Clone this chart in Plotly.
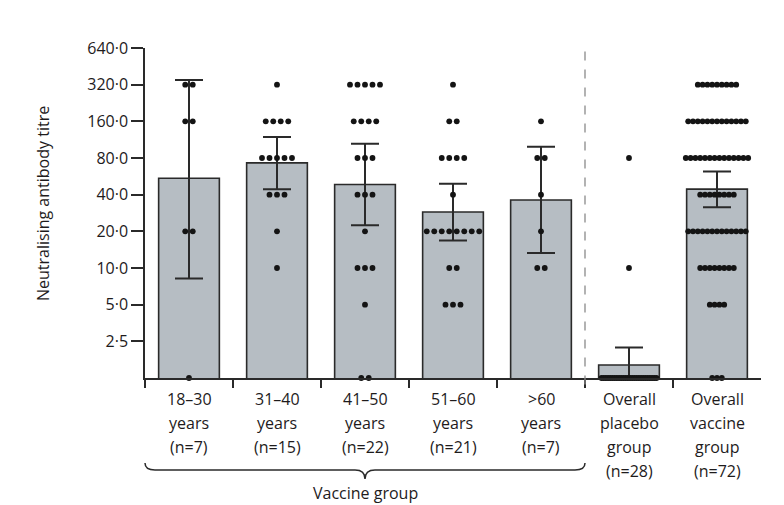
import math
import plotly.graph_objects as go

# ---------------- data ----------------
group_lines = [
    ["18–30", "years", "(n=7)"],
    ["31–40", "years", "(n=15)"],
    ["41–50", "years", "(n=22)"],
    ["51–60", "years", "(n=21)"],
    [">60", "years", "(n=7)"],
    ["Overall", "placebo", "group", "(n=28)"],
    ["Overall", "vaccine", "group", "(n=72)"],
]

# titre levels (0 = undetectable, drawn at the axis floor)
titre_levels = [0, 5, 10, 20, 40, 80, 160, 320]
counts_18_30 = [1, 0, 0, 2, 0, 0, 2, 2]
counts_31_40 = [0, 0, 1, 1, 3, 5, 4, 1]
counts_41_50 = [2, 1, 3, 1, 3, 3, 4, 5]
counts_51_60 = [0, 3, 2, 8, 1, 4, 2, 1]
counts_over_60 = [0, 0, 2, 1, 1, 2, 1, 0]
counts_placebo = [26, 0, 1, 0, 0, 1, 0, 0]
counts_vaccine = [3, 4, 8, 13, 8, 14, 13, 9]

gmt = [54.6, 73.0, 48.5, 28.8, 36.2, 1.6, 44.4]
ci_upper = [349.0, 119.0, 104.5, 49.2, 98.8, 2.22, 62.0]
ci_lower = [8.2, 44.4, 22.4, 16.8, 13.3, 1.25, 31.6]

y_tick_vals = [2.5, 5, 10, 20, 40, 80, 160, 320, 640]
y_tick_text = ["2·5", "5·0", "10·0", "20·0", "40·0", "80·0", "160·0", "320·0", "640·0"]

# ---------------- styling ----------------
FONT = "Open Sans"
TXT = "#1e1b1c"
AX = "#2a2a2a"
Y_FLOOR = 1.25
Y_TOP = 640
PX_PER_CAT = 88.0
dot_spacing_px = [7.5, 7.5, 7.5, 7.5, 7.5, 2.2, 4.8]

all_counts = [counts_18_30, counts_31_40, counts_41_50, counts_51_60,
              counts_over_60, counts_placebo, counts_vaccine]
n_groups = len(group_lines)
xs_idx = list(range(n_groups))

fig = go.Figure()

fig.add_trace(go.Bar(
    x=xs_idx, y=gmt, width=0.69,
    marker=dict(color="#b6bdc3", line=dict(color=AX, width=1.6)),
    error_y=dict(type="data", symmetric=False,
                 array=[u - m for u, m in zip(ci_upper, gmt)],
                 arrayminus=[m - l for m, l in zip(gmt, ci_lower)],
                 color=AX, thickness=2, width=14),
    showlegend=False, hoverinfo="skip",
))

dx, dy = [], []
for gi, counts in enumerate(all_counts):
    sp = dot_spacing_px[gi] / PX_PER_CAT
    for lvl, n in zip(titre_levels, counts):
        yv = lvl if lvl > 0 else Y_FLOOR
        for k in range(n):
            dx.append(gi + (k - (n - 1) / 2.0) * sp)
            dy.append(yv)

fig.add_trace(go.Scatter(
    x=dx, y=dy, mode="markers",
    marker=dict(size=5.8, color="#141414"),
    cliponaxis=False, showlegend=False, hoverinfo="skip",
))

# dashed separator between vaccine age groups and overall groups
fig.add_shape(type="line", xref="x", yref="paper", x0=4.5, x1=4.5, y0=-0.02, y1=1.01,
              line=dict(color="#8a8a8a", width=1.3, dash="dash"))

# category labels, one annotation per line for exact spacing
for gi, lines in enumerate(group_lines):
    for li, t in enumerate(lines):
        fig.add_annotation(x=gi, xref="x", y=0, yref="paper", text=t, showarrow=False,
                           yanchor="middle", yshift=-(21 + 24 * li),
                           font=dict(family=FONT, size=16, color=TXT))

# brace under the vaccine age groups
plot_w = 784 - 145 - 23
plot_h = 505 - 48 - 127
def px_to_py(p):
    return -(p - 378) / plot_h
x0p, x1p = 0.0, 5.0 / n_groups
xcp = (x0p + x1p) / 2
d = 10 / plot_w
yt, ym, yl = px_to_py(463), px_to_py(470), px_to_py(479)
brace = (f"M {x0p},{yt} Q {x0p},{ym} {x0p + d},{ym} L {xcp - d},{ym} "
         f"Q {xcp},{ym} {xcp},{yl} Q {xcp},{ym} {xcp + d},{ym} "
         f"L {x1p - d},{ym} Q {x1p},{ym} {x1p},{yt}")
fig.add_shape(type="path", xref="paper", yref="paper", path=brace,
              line=dict(color=AX, width=1.5))

fig.add_annotation(x=2, xref="x", y=0, yref="paper", text="Vaccine group", showarrow=False,
                   yanchor="middle", yshift=-115, font=dict(family=FONT, size=16, color=TXT))

# y-axis title
fig.add_annotation(x=-(145 - 43) / plot_w, xref="paper", y=(378 - 204) / plot_h, yref="paper",
                   text="Neutralising antibody titre", showarrow=False, textangle=-90,
                   xanchor="center", yanchor="middle",
                   font=dict(family=FONT, size=16, color=TXT))

fig.update_layout(
    width=784, height=505,
    margin=dict(l=145, r=23, t=48, b=127),
    paper_bgcolor="white", plot_bgcolor="white",
    font=dict(family=FONT, size=16, color=TXT),
    xaxis=dict(range=[-0.5, n_groups - 0.5], tickvals=[i - 0.5 for i in range(n_groups)],
               showticklabels=False, ticks="outside", ticklen=8, tickwidth=1.5, tickcolor=AX,
               showline=True, linecolor=AX, linewidth=1.5, showgrid=False, zeroline=False),
    yaxis=dict(type="log", range=[math.log10(Y_FLOOR) - 1e-4, math.log10(Y_TOP)],
               tickvals=y_tick_vals, ticktext=y_tick_text,
               ticks="outside", ticklen=12, tickwidth=1.5, tickcolor=AX,
               showline=True, linecolor=AX, linewidth=1.5, showgrid=False, zeroline=False,
               tickfont=dict(family=FONT, size=16, color=TXT)),
)

fig.write_html("out.html", config={"displayModeBar": False},
               post_script="document.body.style.margin='0';")
